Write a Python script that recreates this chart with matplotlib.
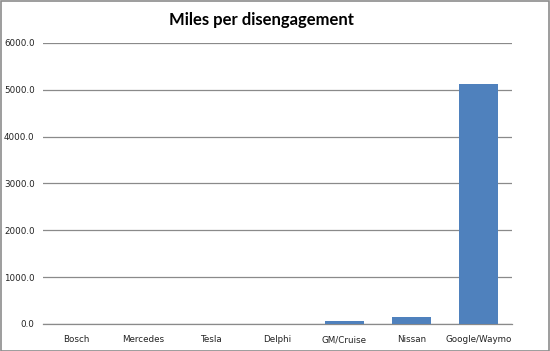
import matplotlib
matplotlib.use("Agg")
import matplotlib.pyplot as plt
from matplotlib.ticker import FuncFormatter
from matplotlib.patches import Rectangle

categories = ["Bosch", "Mercedes", "Tesla", "Delphi", "GM/Cruise", "Nissan", "Google/Waymo"]
values = [0.7, 2.0, 3.0, 8.0, 54.0, 146.0, 5128.0]
yticks = [0, 1000, 2000, 3000, 4000, 5000, 6000]

fig = plt.figure(figsize=(5.5, 3.51), dpi=100)
ax = fig.add_axes([0.078, 0.077, 0.853, 0.8005])
x = list(range(len(categories)))
ax.bar(x, values, width=0.57, color="#4F81BD", zorder=3)
ax.set_xlim(-0.5, len(categories) - 0.5)
ax.set_ylim(0, 6000)
ax.set_yticks(yticks)
ax.yaxis.set_major_formatter(FuncFormatter(lambda v, p: f"{v:.1f}"))
ax.set_xticks(x)
ax.set_xticklabels(categories)
ax.grid(axis="y", color="#8a8a8a", linewidth=0.9, zorder=0)
for s in ["top", "right", "left"]:
    ax.spines[s].set_visible(False)
ax.spines["bottom"].set_color("#8a8a8a")
ax.spines["bottom"].set_linewidth(0.9)
ax.tick_params(axis="both", length=0, labelsize=6.3, colors="#222222")
ax.tick_params(axis="y", pad=6)
ax.tick_params(axis="x", pad=8)
for lab in ax.get_xticklabels() + ax.get_yticklabels():
    lab.set_family("DejaVu Sans")
fig.text(0.476, 0.943, "Miles per disengagement", ha="center", va="center",
         fontsize=12, fontweight="bold", family="Lato")
fig.patches.append(Rectangle((0.001, 0.001), 0.997, 0.997, transform=fig.transFigure,
                             fill=False, edgecolor="#8c8c8c", linewidth=1.2))
fig.savefig("out.png", dpi=100)
